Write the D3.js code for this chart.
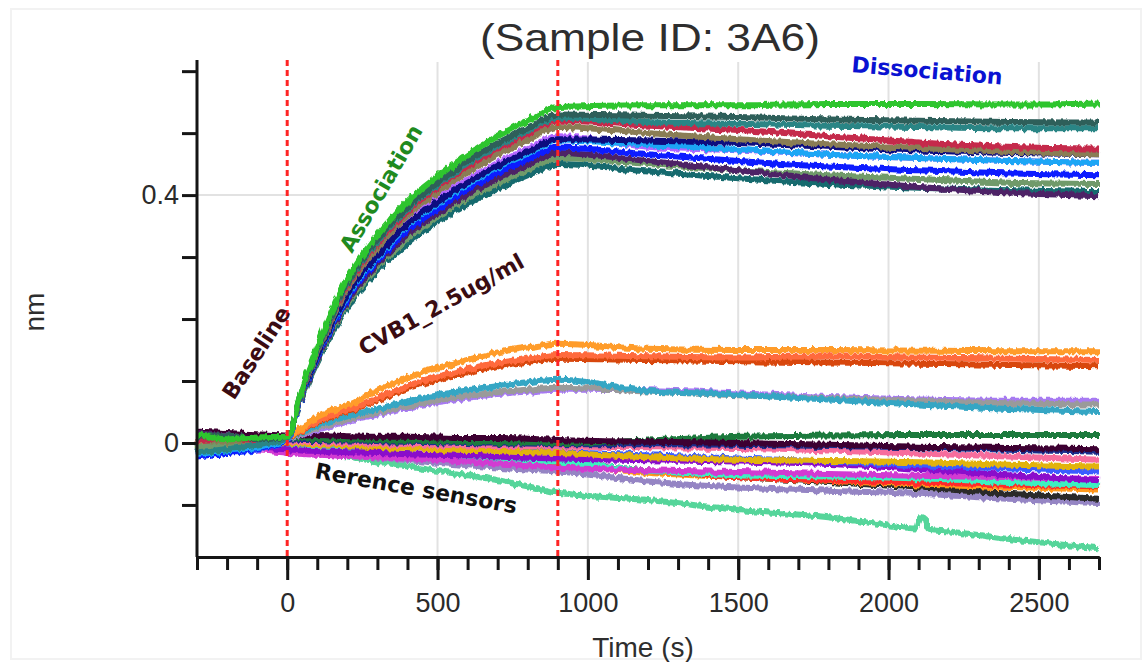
<!DOCTYPE html>
<html>
<head>
<meta charset="utf-8">
<script src="https://cdn.jsdelivr.net/npm/d3@7/dist/d3.min.js"></script>
<style>
  html, body { margin: 0; padding: 0; background: #fff; }
  svg { display: block; }
</style>
</head>
<body>
<svg id="chart" width="1146" height="662"></svg>
<script>
// ---------------- DATA ----------------
const times = [-300, -200, -100, 0, 50, 100, 150, 200, 300, 400, 500, 600, 700, 800, 900, 1200, 1500, 1800, 2100, 2400, 2700];

// high-response sensors (association -> dissociation)
const green      = [0.014, 0.006, 0.009, 0.010, 0.090, 0.155, 0.215, 0.265, 0.335, 0.390, 0.430, 0.465, 0.495, 0.520, 0.542, 0.545, 0.545, 0.547, 0.547, 0.546, 0.548];
const slate      = [0.010, 0.012, 0.006, 0.010, 0.088, 0.152, 0.210, 0.259, 0.328, 0.381, 0.420, 0.455, 0.484, 0.508, 0.530, 0.528, 0.526, 0.522, 0.520, 0.518, 0.517];
const teal       = [-0.015, -0.010, -0.004, 0.008, 0.087, 0.150, 0.208, 0.257, 0.325, 0.378, 0.417, 0.451, 0.480, 0.504, 0.525, 0.518, 0.515, 0.512, 0.510, 0.508, 0.508];
const crimson    = [0.004, 0.008, 0.003, 0.010, 0.086, 0.149, 0.206, 0.254, 0.322, 0.374, 0.413, 0.446, 0.475, 0.499, 0.520, 0.512, 0.505, 0.495, 0.485, 0.478, 0.475];
const olive      = [0.008, 0.002, 0.005, 0.010, 0.085, 0.146, 0.202, 0.249, 0.315, 0.367, 0.404, 0.437, 0.465, 0.489, 0.510, 0.500, 0.490, 0.482, 0.476, 0.470, 0.466];
const violet     = [0.006, 0.012, 0.004, 0.009, 0.083, 0.142, 0.196, 0.242, 0.306, 0.356, 0.393, 0.425, 0.452, 0.475, 0.495, 0.478, 0.472, 0.465, 0.460, 0.455, 0.452];
const navy       = [0.012, 0.004, 0.007, 0.010, 0.082, 0.140, 0.194, 0.240, 0.303, 0.353, 0.389, 0.420, 0.447, 0.470, 0.490, 0.488, 0.484, 0.478, 0.472, 0.468, 0.466];
const lightBlue  = [-0.018, -0.012, -0.008, 0.006, 0.081, 0.139, 0.192, 0.237, 0.300, 0.350, 0.386, 0.417, 0.444, 0.467, 0.488, 0.482, 0.473, 0.465, 0.460, 0.455, 0.452];
const blue       = [-0.022, -0.016, -0.010, 0.005, 0.080, 0.137, 0.189, 0.233, 0.295, 0.343, 0.378, 0.409, 0.435, 0.458, 0.477, 0.466, 0.455, 0.446, 0.440, 0.435, 0.432];
const darkPurple = [0.016, 0.010, 0.008, 0.011, 0.078, 0.134, 0.186, 0.229, 0.289, 0.337, 0.371, 0.401, 0.427, 0.449, 0.468, 0.455, 0.440, 0.425, 0.413, 0.404, 0.398];
const sage       = [-0.006, -0.002, 0.000, 0.008, 0.077, 0.132, 0.183, 0.225, 0.284, 0.331, 0.365, 0.395, 0.420, 0.441, 0.460, 0.450, 0.440, 0.432, 0.426, 0.420, 0.418];
const darkTeal   = [-0.020, -0.014, -0.006, 0.007, 0.075, 0.129, 0.178, 0.220, 0.278, 0.323, 0.357, 0.386, 0.411, 0.432, 0.450, 0.438, 0.427, 0.418, 0.412, 0.408, 0.405];

// CVB1_2.5ug/ml mid-response sensors
const orange     = [0.010, 0.004, 0.006, 0.010, 0.025, 0.042, 0.052, 0.060, 0.085, 0.105, 0.121, 0.134, 0.146, 0.154, 0.160, 0.152, 0.150, 0.150, 0.149, 0.148, 0.148];
const redOrange  = [0.002, 0.006, 0.004, 0.010, 0.022, 0.035, 0.045, 0.052, 0.072, 0.092, 0.107, 0.119, 0.129, 0.136, 0.142, 0.140, 0.138, 0.140, 0.138, 0.136, 0.134];
const darkOrange = [0.005, 0.000, 0.006, 0.009, 0.021, 0.033, 0.043, 0.050, 0.069, 0.088, 0.102, 0.114, 0.124, 0.131, 0.136, 0.134, 0.132, 0.130, 0.128, 0.126, 0.124];
const tealBlue   = [-0.012, -0.008, -0.004, 0.008, 0.018, 0.028, 0.036, 0.043, 0.055, 0.067, 0.077, 0.085, 0.092, 0.098, 0.102, 0.084, 0.078, 0.070, 0.062, 0.055, 0.050];
const gray       = [0.004, 0.008, 0.003, 0.008, 0.016, 0.024, 0.031, 0.038, 0.049, 0.060, 0.069, 0.076, 0.082, 0.086, 0.089, 0.083, 0.077, 0.072, 0.068, 0.064, 0.062];
const lavender   = [0.000, -0.004, 0.002, 0.007, 0.014, 0.021, 0.028, 0.035, 0.046, 0.057, 0.066, 0.073, 0.079, 0.083, 0.086, 0.085, 0.080, 0.074, 0.070, 0.068, 0.068];

// reference sensors
const maroon     = [0.018, 0.016, 0.014, 0.012, 0.012, 0.013, 0.012, 0.011, 0.010, 0.010, 0.009, 0.008, 0.008, 0.007, 0.005, 0.002, 0.000, -0.003, -0.006, -0.008, -0.010];
const darkGreen  = [0.010, 0.008, 0.006, 0.008, 0.008, 0.007, 0.006, 0.006, 0.005, 0.004, 0.003, 0.002, 0.001, 0.001, 0.000, 0.004, 0.010, 0.012, 0.013, 0.013, 0.013];
const navyRef    = [0.004, 0.002, 0.005, 0.006, 0.005, 0.005, 0.004, 0.004, 0.003, 0.002, 0.001, 0.000, -0.001, -0.001, -0.002, -0.002, -0.003, -0.005, -0.007, -0.011, -0.014];
const pink       = [0.004, 0.006, 0.002, 0.003, 0.002, 0.001, 0.000, 0.000, -0.001, -0.002, -0.003, -0.004, -0.005, -0.005, -0.006, -0.007, -0.008, -0.012, -0.017, -0.022, -0.027];
const gold       = [-0.010, -0.006, -0.004, 0.000, -0.001, -0.002, -0.003, -0.004, -0.006, -0.008, -0.010, -0.011, -0.013, -0.015, -0.016, -0.023, -0.027, -0.029, -0.031, -0.035, -0.038];
const blueRef    = [-0.020, -0.016, -0.012, 0.000, -0.001, -0.002, -0.003, -0.004, -0.005, -0.007, -0.008, -0.010, -0.012, -0.014, -0.015, -0.020, -0.025, -0.030, -0.036, -0.041, -0.046];
const purple     = [-0.014, -0.010, -0.008, -0.010, -0.012, -0.013, -0.014, -0.015, -0.016, -0.018, -0.019, -0.020, -0.022, -0.024, -0.025, -0.028, -0.030, -0.034, -0.042, -0.052, -0.060];
const red        = [-0.008, -0.010, -0.006, -0.005, -0.006, -0.008, -0.010, -0.012, -0.015, -0.019, -0.022, -0.025, -0.028, -0.032, -0.035, -0.045, -0.055, -0.060, -0.064, -0.067, -0.070];
const aquamarine = [-0.016, -0.012, -0.008, -0.006, -0.008, -0.010, -0.012, -0.014, -0.016, -0.019, -0.021, -0.023, -0.026, -0.028, -0.030, -0.045, -0.052, -0.054, -0.057, -0.063, -0.068];
const orangeRef  = [-0.012, -0.014, -0.010, -0.008, -0.010, -0.012, -0.014, -0.016, -0.019, -0.022, -0.025, -0.028, -0.030, -0.033, -0.035, -0.048, -0.055, -0.061, -0.067, -0.071, -0.075];
const blackRef   = [0.000, -0.004, -0.002, -0.004, -0.006, -0.008, -0.010, -0.012, -0.015, -0.018, -0.021, -0.024, -0.026, -0.028, -0.030, -0.045, -0.055, -0.063, -0.072, -0.082, -0.090];
const lavRef     = [-0.014, -0.012, -0.010, -0.012, -0.014, -0.016, -0.018, -0.020, -0.024, -0.028, -0.032, -0.036, -0.040, -0.043, -0.046, -0.062, -0.072, -0.077, -0.082, -0.090, -0.097];
const magenta    = [-0.018, -0.015, -0.012, -0.016, -0.018, -0.019, -0.020, -0.021, -0.023, -0.025, -0.027, -0.030, -0.033, -0.036, -0.040, -0.044, -0.047, -0.050, -0.053, -0.055, -0.058];

// drifting reference sensor with a spike near 2110 s
const mintTimes  = [-300, -200, -100, 0, 100, 200, 300, 400, 500, 600, 700, 800, 900, 1200, 1500, 1800, 2000, 2090, 2100, 2110, 2125, 2135, 2200, 2400, 2700];
const mint       = [-0.010, -0.006, -0.008, -0.010, -0.015, -0.022, -0.030, -0.038, -0.045, -0.052, -0.060, -0.070, -0.080, -0.092, -0.108, -0.120, -0.133, -0.138, -0.124, -0.120, -0.124, -0.140, -0.143, -0.155, -0.170];

// axis ticks / labels
const xMinorTicks = d3.range(-300, 2701, 100);
const xMajorTicks = [0, 500, 1000, 1500, 2000, 2500];
const yTicks = [-0.1, 0, 0.1, 0.2, 0.3, 0.4, 0.5, 0.6];
const yLabelled = [0, 0.4];
const stepTimes = [0, 900];

const seriesList = [
  {v: mint, t: mintTimes, c: "#55d59a"},
  {v: lavRef, c: "#9585c4"}, {v: blackRef, c: "#2a2a2a"}, {v: orangeRef, c: "#ff9a1a"},
  {v: red, c: "#ff2a2a"}, {v: aquamarine, c: "#3cf0c0"}, {v: magenta, c: "#d23ad2"},
  {v: purple, c: "#8a0acb"}, {v: blueRef, c: "#3a5cff"}, {v: gold, c: "#e2b30f"},
  {v: pink, c: "#f76d9d"}, {v: navyRef, c: "#1b2e8c"}, {v: darkGreen, c: "#1b7a3e"},
  {v: maroon, c: "#3d0030"},
  {v: lavender, c: "#a77af2"}, {v: gray, c: "#9a9a9a"}, {v: tealBlue, c: "#35a6c4"},
  {v: darkOrange, c: "#d8470b"}, {v: redOrange, c: "#ff6a3d"}, {v: orange, c: "#ff9c2a"},
  {v: violet, c: "#b266ff"},
  {v: darkTeal, c: "#166b6e"}, {v: sage, c: "#6f9a6a"}, {v: darkPurple, c: "#4d2466"},
  {v: blue, c: "#0a1aff"}, {v: lightBlue, c: "#1aa6f5"}, {v: navy, c: "#0a0a80"},
  {v: olive, c: "#8a7d55"}, {v: crimson, c: "#c52a4c"},
  {v: teal, c: "#2a8585"}, {v: slate, c: "#2f5f5a"}, {v: green, c: "#2ec52e"}
];

// ---------------- CHART ----------------
const svg = d3.select("#chart");
const x = d3.scaleLinear().domain([-300, 2700]).range([197, 1099]);
const y = d3.scaleLinear().domain([-0.184, 0.618]).range([557, 60]);

// faint frame of the figure
svg.append("rect").attr("x", 11).attr("y", 9).attr("width", 1130).attr("height", 650)
  .attr("fill", "none").attr("stroke", "#f2f2f2").attr("stroke-width", 2);

// gridlines
const grid = svg.append("g");
grid.selectAll("line.v").data(xMajorTicks.filter(d => d > 0)).join("line")
  .attr("x1", d => x(d)).attr("x2", d => x(d)).attr("y1", 62).attr("y2", 557)
  .attr("stroke", "#e2e2e2").attr("stroke-width", 2);
grid.append("line").attr("x1", 197).attr("x2", 1099).attr("y1", y(0.4)).attr("y2", y(0.4))
  .attr("stroke", "#e2e2e2").attr("stroke-width", 2);

// noise-like jitter filter (styling only)
const defs = svg.append("defs");
const f = defs.append("filter").attr("id", "jitter").attr("filterUnits", "userSpaceOnUse")
  .attr("x", 150).attr("y", 40).attr("width", 1000).attr("height", 560);
f.append("feTurbulence").attr("type", "fractalNoise").attr("baseFrequency", "0.28 0.05")
  .attr("numOctaves", 2).attr("seed", 3).attr("result", "noise");
f.append("feDisplacementMap").attr("in", "SourceGraphic").attr("in2", "noise")
  .attr("scale", 6).attr("xChannelSelector", "R").attr("yChannelSelector", "G");

const line = d3.line().x(d => x(d[0])).y(d => y(d[1])).curve(d3.curveMonotoneX);
const lines = svg.append("g").attr("filter", "url(#jitter)");
lines.selectAll("path").data(seriesList).join("path")
  .attr("d", s => line((s.t || times).map((t, i) => [t, s.v[i]])))
  .attr("fill", "none").attr("stroke", s => s.c).attr("stroke-width", 6)
  .attr("stroke-linejoin", "round");

// step markers
svg.selectAll("line.step").data(stepTimes).join("line")
  .attr("x1", d => x(d)).attr("x2", d => x(d)).attr("y1", 60).attr("y2", 557)
  .attr("stroke", "#ff2424").attr("stroke-width", 3).attr("stroke-dasharray", "6,4");

// axes
const axisColor = "#151515";
const gxMinor = svg.append("g").attr("transform", "translate(0,557)")
  .call(d3.axisBottom(x).tickValues(xMinorTicks).tickSize(13).tickSizeOuter(0).tickFormat(""));
const gxMajor = svg.append("g").attr("transform", "translate(0,557)")
  .call(d3.axisBottom(x).tickValues(xMajorTicks).tickSize(23).tickSizeOuter(0).tickPadding(13).tickFormat(d3.format("d")));
const gy = svg.append("g").attr("transform", "translate(197,0)")
  .call(d3.axisLeft(y).tickValues(yTicks).tickSize(15).tickSizeOuter(0).tickPadding(3)
    .tickFormat(d => yLabelled.some(v => Math.abs(v - d) < 1e-9) ? d3.format("")(d) : ""));
[gxMinor, gxMajor, gy].forEach(g => {
  g.selectAll("path.domain").attr("stroke", axisColor).attr("stroke-width", 3);
  g.selectAll(".tick line").attr("stroke", axisColor).attr("stroke-width", 3);
  g.selectAll("text").attr("fill", "#2a2a2a").style("font-family", "'Liberation Sans', Arial, sans-serif")
    .style("font-size", "27px");
});
gy.select("path.domain").attr("d", `M0,${y(0.618)}V557`);

// titles
const sans = "'Liberation Sans', Arial, sans-serif";
svg.append("text").attr("x", 650).attr("y", 51).attr("text-anchor", "middle")
  .attr("textLength", 340).attr("lengthAdjust", "spacingAndGlyphs")
  .style("font-family", sans).style("font-size", "39px").attr("fill", "#2e2e2e")
  .text("(Sample ID: 3A6)");
svg.append("text").attr("x", 643).attr("y", 657).attr("text-anchor", "middle")
  .style("font-family", sans).style("font-size", "28px").attr("fill", "#2e2e2e").text("Time (s)");
svg.append("text").attr("transform", "translate(44,312) rotate(-90)").attr("text-anchor", "middle")
  .style("font-family", sans).style("font-size", "28px").attr("fill", "#2e2e2e").text("nm");

// annotations
const bold = "'DejaVu Sans', Verdana, sans-serif";
const notes = [
  {text: "Association", x: 352, y: 254, a: -60, c: "#1f8a1f"},
  {text: "CVB1_2.5ug/ml", x: 364, y: 356, a: -29, c: "#3a0c12"},
  {text: "Baseline", x: 234, y: 401, a: -57, c: "#3a0c12"},
  {text: "Dissociation", x: 851, y: 72, a: 4.8, c: "#0a12d2"},
  {text: "Rerence sensors", x: 314, y: 478, a: 10, c: "#111"}
];
svg.selectAll("text.note").data(notes).join("text").attr("class", "note")
  .attr("transform", d => `translate(${d.x},${d.y}) rotate(${d.a})`)
  .style("font-family", bold).style("font-weight", "bold").style("font-size", "22px")
  .attr("fill", d => d.c).text(d => d.text);
</script>
</body>
</html>
